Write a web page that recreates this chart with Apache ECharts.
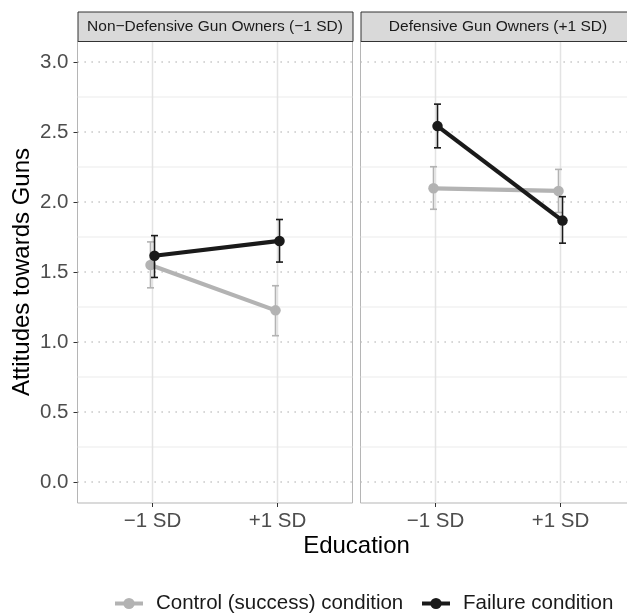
<!DOCTYPE html>
<html>
<head>
<meta charset="utf-8">
<script src="https://cdn.jsdelivr.net/npm/echarts@6/dist/echarts.min.js"></script>
<style>
html,body{margin:0;padding:0;background:#fff;overflow:hidden;}
#chart{width:640px;height:616px;}
</style>
</head>
<body>
<div id="chart"></div>
<script>
// ---- data ----
const categories = ['\u22121 SD', '+1 SD'];
const panels = ['Non\u2212Defensive Gun Owners (\u22121 SD)', 'Defensive Gun Owners (+1 SD)'];
const seriesNames = ['Control (success) condition', 'Failure condition'];

// Non-defensive gun owners (-1 SD)
const nonDefControlMean = [1.55, 1.226];
const nonDefControlLow  = [1.387, 1.045];
const nonDefControlHigh = [1.715, 1.402];
const nonDefFailureMean = [1.616, 1.722];
const nonDefFailureLow  = [1.461, 1.571];
const nonDefFailureHigh = [1.76, 1.875];

// Defensive gun owners (+1 SD)
const defControlMean = [2.098, 2.079];
const defControlLow  = [1.948, 1.925];
const defControlHigh = [2.252, 2.233];
const defFailureMean = [2.542, 1.867];
const defFailureLow  = [2.387, 1.706];
const defFailureHigh = [2.699, 2.038];

const yMajorTicks = [0, 0.5, 1, 1.5, 2, 2.5, 3];
const yMinorTicks = [0.25, 0.75, 1.25, 1.75, 2.25, 2.75];
const xTicks = [1, 2];

// ---- build ----
const FONT = 'Liberation Sans, Arial, Helvetica, sans-serif';
const GRAY = '#b3b3b3';
const BLACK = '#1a1a1a';
const DODGE = 0.016;

const chart = echarts.init(document.getElementById('chart'), null, {renderer: 'canvas'});

const gridDefs = [
  {left: 77.5, top: 41, width: 275, height: 462},
  {left: 360.5, top: 41, width: 275, height: 462}
];

const panelData = [
  {control: [nonDefControlMean, nonDefControlLow, nonDefControlHigh],
   failure: [nonDefFailureMean, nonDefFailureLow, nonDefFailureHigh]},
  {control: [defControlMean, defControlLow, defControlHigh],
   failure: [defFailureMean, defFailureLow, defFailureHigh]}
];

const grids = gridDefs.map(g => Object.assign({
  show: true, borderColor: '#b5b5b5', borderWidth: 1, backgroundColor: '#fff', containLabel: false
}, g));

const xAxes = gridDefs.map((g, i) => ({
  type: 'value', gridIndex: i, min: 0.4, max: 2.6, position: 'bottom',
  axisLine: {show: false, onZero: false},
  splitLine: {show: false},
  axisTick: {show: true, customValues: xTicks, length: 4, lineStyle: {color: '#333', width: 1}},
  axisLabel: {show: true, customValues: xTicks, margin: 8,
    formatter: v => categories[Math.round(v) - 1] || '',
    color: '#4d4d4d', fontSize: 20.5, fontFamily: FONT}
}));

const yAxes = gridDefs.map((g, i) => ({
  type: 'value', gridIndex: i, min: -0.15, max: 3.15, position: 'left',
  axisLine: {show: false, onZero: false},
  splitLine: {show: false},
  axisTick: {show: i === 0, customValues: yMajorTicks, length: 4, lineStyle: {color: '#333', width: 1}},
  axisLabel: {show: i === 0, customValues: yMajorTicks, margin: 9,
    formatter: v => v.toFixed(1),
    color: '#4d4d4d', fontSize: 20.5, fontFamily: FONT}
}));

const series = [];

// gridlines via custom series (drawn beneath the data)
gridDefs.forEach((g, i) => {
  const gl = [];
  yMinorTicks.forEach(v => gl.push([0, v]));
  xTicks.forEach(v => gl.push([2, v]));
  yMajorTicks.forEach(v => gl.push([1, v]));
  series.push({
    type: 'custom', xAxisIndex: i, yAxisIndex: i, silent: true, z: 0,
    data: gl,
    renderItem: function (params, api) {
      const kind = api.value(0);
      const v = api.value(1);
      const cs = params.coordSys;
      if (kind === 2) {
        const p = api.coord([v, 0]);
        return {type: 'line', shape: {x1: p[0], y1: cs.y, x2: p[0], y2: cs.y + cs.height},
          style: {stroke: '#e3e3e3', lineWidth: 1.5}};
      }
      const p = api.coord([1, v]);
      if (kind === 0) {
        return {type: 'line', shape: {x1: cs.x, y1: p[1], x2: cs.x + cs.width, y2: p[1]},
          style: {stroke: '#ebebeb', lineWidth: 1}};
      }
      return {type: 'line', shape: {x1: cs.x, y1: p[1], x2: cs.x + cs.width, y2: p[1]},
        style: {stroke: '#bdbdbd', lineWidth: 1.3, lineDash: [1.3, 5.7]}};
    }
  });
});

function errorBarSeries(i, name, color, offset, low, high, z) {
  return {
    type: 'custom', name: name, xAxisIndex: i, yAxisIndex: i, z: z, silent: true,
    data: low.map((l, k) => [xTicks[k] + offset, l, high[k]]),
    renderItem: function (params, api) {
      const x = api.value(0);
      const p1 = api.coord([x, api.value(1)]);
      const p2 = api.coord([x, api.value(2)]);
      const hw = 3.5;
      const st = {stroke: color, lineWidth: 1.6};
      return {type: 'group', children: [
        {type: 'line', shape: {x1: p1[0], y1: p1[1], x2: p2[0], y2: p2[1]}, style: st},
        {type: 'line', shape: {x1: p1[0] - hw, y1: p1[1], x2: p1[0] + hw, y2: p1[1]}, style: st},
        {type: 'line', shape: {x1: p2[0] - hw, y1: p2[1], x2: p2[0] + hw, y2: p2[1]}, style: st}
      ]};
    }
  };
}

function lineSeries(i, name, color, offset, mean, z) {
  return {
    type: 'line', name: name, xAxisIndex: i, yAxisIndex: i, z: z,
    data: mean.map((m, k) => [xTicks[k] + offset, m]),
    symbol: 'circle', symbolSize: 10.5, showSymbol: true,
    lineStyle: {color: color, width: 4.2},
    itemStyle: {color: color},
    animation: false, silent: true
  };
}

gridDefs.forEach((g, i) => {
  const pd = panelData[i];
  series.push(lineSeries(i, seriesNames[0], GRAY, -DODGE, pd.control[0], 2));
  series.push(errorBarSeries(i, seriesNames[0] + ' err', GRAY, -DODGE, pd.control[1], pd.control[2], 3));
  series.push(lineSeries(i, seriesNames[1], BLACK, DODGE, pd.failure[0], 4));
  series.push(errorBarSeries(i, seriesNames[1] + ' err', BLACK, DODGE, pd.failure[1], pd.failure[2], 5));
});

// strips and titles
const graphic = [];
gridDefs.forEach((g, i) => {
  graphic.push({type: 'rect', left: g.left, top: 11.5, silent: true, z: 10,
    shape: {x: 0, y: 0, width: g.width, height: 29.5},
    style: {fill: '#d9d9d9', stroke: '#333', lineWidth: 1}});
  graphic.push({type: 'text', x: g.left + g.width / 2, y: 26.5, silent: true, z: 11,
    style: {text: panels[i], fill: '#1a1a1a', font: '15.5px ' + FONT, textAlign: 'center', textVerticalAlign: 'middle'}});
});
graphic.push({type: 'text', x: 356.5, y: 546, silent: true,
  style: {text: 'Education', fill: '#000', font: '24px ' + FONT, textAlign: 'center', textVerticalAlign: 'middle'}});
graphic.push({type: 'text', x: 22, y: 272, rotation: Math.PI / 2, silent: true,
  style: {text: 'Attitudes towards Guns', fill: '#000', font: '24px ' + FONT, textAlign: 'center', textVerticalAlign: 'middle'}});

const legendCommon = {
  orient: 'horizontal', top: 593, itemWidth: 28, itemHeight: 14, padding: 0,
  lineStyle: {width: 4},
  textStyle: {fontSize: 20.5, color: '#1a1a1a', fontFamily: FONT, padding: [0, 0, 0, 8]},
  selectedMode: false
};

chart.setOption({
  animation: false,
  backgroundColor: '#fff',
  grid: grids,
  xAxis: xAxes,
  yAxis: yAxes,
  series: series,
  graphic: graphic,
  legend: [
    Object.assign({left: 113, data: [seriesNames[0]]}, legendCommon),
    Object.assign({left: 420, data: [seriesNames[1]]}, legendCommon)
  ]
});
</script>
</body>
</html>
